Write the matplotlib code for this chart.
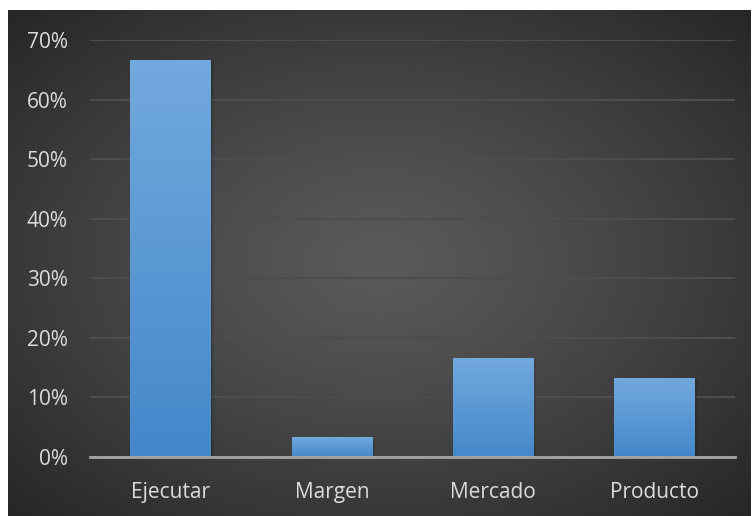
import numpy as np
import matplotlib
matplotlib.use('Agg')

import matplotlib.pyplot as plt
from matplotlib.ticker import PercentFormatter

categories = ['Ejecutar', 'Margen', 'Mercado', 'Producto']
shares = [0.667, 0.033, 0.167, 0.133]
yticks = [0.0, 0.1, 0.2, 0.3, 0.4, 0.5, 0.6, 0.7]

TEXT = '#dcdcdc'
GRID = '#4d4d4d'
BAR_TOP = np.array([0x72, 0xa9, 0xde]) / 255
BAR_BOT = np.array([0x44, 0x88, 0xca]) / 255


def main():
    fig = plt.figure(figsize=(7.52, 5.16), dpi=100)
    fig.patch.set_facecolor('white')

    # dark panel with a soft radial glow in the middle
    bg = fig.add_axes([8 / 752, 0, 743 / 752, 506 / 516])
    bg.set_axis_off()
    yy, xx = np.mgrid[-1:1:300j, -1:1:400j]
    r = np.sqrt(xx ** 2 + yy ** 2) / np.sqrt(2)
    lo, hi = 0x26 / 255, 0x5a / 255
    shade = hi - (hi - lo) * np.clip(r, 0, 1) ** 1.2
    img = np.dstack([shade, shade, shade])
    bg.imshow(img, aspect='auto', extent=(0, 1, 0, 1), interpolation='bilinear')
    bg.set_xlim(0, 1)
    bg.set_ylim(0, 1)

    ax = fig.add_axes([90 / 752, 59 / 516, 645 / 752, 417 / 516])
    ax.patch.set_alpha(0)
    x = np.arange(len(categories))
    bars = ax.bar(x, shares, width=0.5, color=BAR_BOT, zorder=3)

    # vertical gradient inside each bar, plus a faint soft shadow to the right
    grad = np.linspace(0, 1, 256)[:, None]
    cols = BAR_BOT[None, None, :] * (1 - grad[..., None]) + BAR_TOP[None, None, :] * grad[..., None]
    for b in bars:
        x0, w, h = b.get_x(), b.get_width(), b.get_height()
        for k in range(1, 4):
            ax.bar(x0 + w / 2 + 0.006 * k, h - 0.001 * k, width=w, bottom=0,
                   color='black', alpha=0.06, zorder=2, linewidth=0)
        im = ax.imshow(cols, extent=(x0, x0 + w, 0, h), origin='lower',
                       aspect='auto', zorder=4, interpolation='bilinear')
        im.set_clip_path(b)

    ax.set_xlim(-0.5, len(categories) - 0.5)
    ax.set_ylim(0, 0.7)
    ax.set_yticks(yticks)
    ax.yaxis.set_major_formatter(PercentFormatter(1.0, decimals=0))
    ax.set_xticks(x)
    ax.set_xticklabels(categories)

    ax.yaxis.grid(True, color=GRID, linewidth=1.5, zorder=1)
    ax.set_axisbelow(True)
    for s in ['top', 'right', 'left']:
        ax.spines[s].set_visible(False)
    ax.spines['bottom'].set_color('#a6a6a6')
    ax.spines['bottom'].set_linewidth(2)
    ax.spines['bottom'].set_zorder(5)

    ax.tick_params(axis='both', length=0, colors=TEXT, labelsize=15)
    ax.tick_params(axis='y', pad=16)
    ax.tick_params(axis='x', pad=18)
    for lab in ax.get_xticklabels() + ax.get_yticklabels():
        lab.set_fontfamily('Open Sans')

    plt.savefig('out.png', dpi=100, facecolor=fig.get_facecolor())


if __name__ == '__main__':
    main()
